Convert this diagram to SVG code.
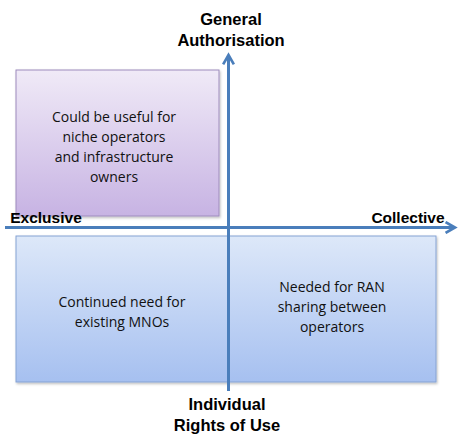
<svg xmlns="http://www.w3.org/2000/svg" width="474" height="439" viewBox="0 0 474 439">
<defs>
<linearGradient id="gp" x1="0" y1="0" x2="0" y2="1"><stop offset="0" stop-color="#f0eaf7"/><stop offset="1" stop-color="#c7b3e3"/></linearGradient>
<linearGradient id="gb" x1="0" y1="0" x2="0" y2="1"><stop offset="0" stop-color="#dde8f9"/><stop offset="1" stop-color="#a6c0f0"/></linearGradient>
<marker id="ah" viewBox="0 0 10 10" refX="8" refY="5" markerWidth="4.5" markerHeight="4.5" orient="auto" markerUnits="strokeWidth"><path d="M1,1 L8,5 L1,9" fill="none" stroke="#4a7ebb" stroke-width="2" stroke-linejoin="miter"/></marker>
<filter id="sh" x="-5%" y="-5%" width="110%" height="110%"><feDropShadow dx="1" dy="1.5" stdDeviation="1" flood-color="#000" flood-opacity="0.25"/></filter>
</defs>
<style>
.lbl{font-family:"Liberation Sans",Arial,sans-serif;font-weight:bold;font-size:15.5px;fill:#000;text-anchor:middle}
.big{font-size:16.5px}
.txt{font-family:"Open Sans","Liberation Sans",sans-serif;font-size:14px;fill:#111;text-anchor:middle}
.axis{stroke:#4a7ebb;stroke-width:3;fill:none}
</style>
<rect width="474" height="439" fill="#fff"/>
<g id="box-exclusive-general">
<rect x="16" y="70" width="203" height="146" fill="url(#gp)" stroke="#9e8cbd" stroke-width="1" filter="url(#sh)"/>
<text class="txt" x="114" y="122">Could be useful for</text>
<text class="txt" x="114" y="142">niche operators</text>
<text class="txt" x="114" y="162">and infrastructure</text>
<text class="txt" x="114" y="182">owners</text>
</g>
<g id="box-individual">
<rect x="16" y="236" width="420" height="146" fill="url(#gb)" stroke="#86a3d3" stroke-width="1" filter="url(#sh)"/>
<text class="txt" x="122" y="307">Continued need for</text>
<text class="txt" x="122" y="327">existing MNOs</text>
<text class="txt" x="332" y="292">Needed for RAN</text>
<text class="txt" x="332" y="312">sharing between</text>
<text class="txt" x="332" y="332">operators</text>
</g>
<g id="connectors">
<line class="axis" x1="228.5" y1="391" x2="228.5" y2="55" marker-end="url(#ah)"/>
<line class="axis" x1="5" y1="227.5" x2="455" y2="227.5" marker-end="url(#ah)"/>
</g>
<g id="label-general">
<text class="lbl big" x="231" y="25">General</text>
<text class="lbl big" x="231" y="46">Authorisation</text>
</g>
<g id="label-exclusive"><text class="lbl" x="46" y="223">Exclusive</text></g>
<g id="label-collective"><text class="lbl" x="408" y="223">Collective</text></g>
<g id="label-individual">
<text class="lbl big" x="227" y="410">Individual</text>
<text class="lbl big" x="227" y="431">Rights of Use</text>
</g>
</svg>
